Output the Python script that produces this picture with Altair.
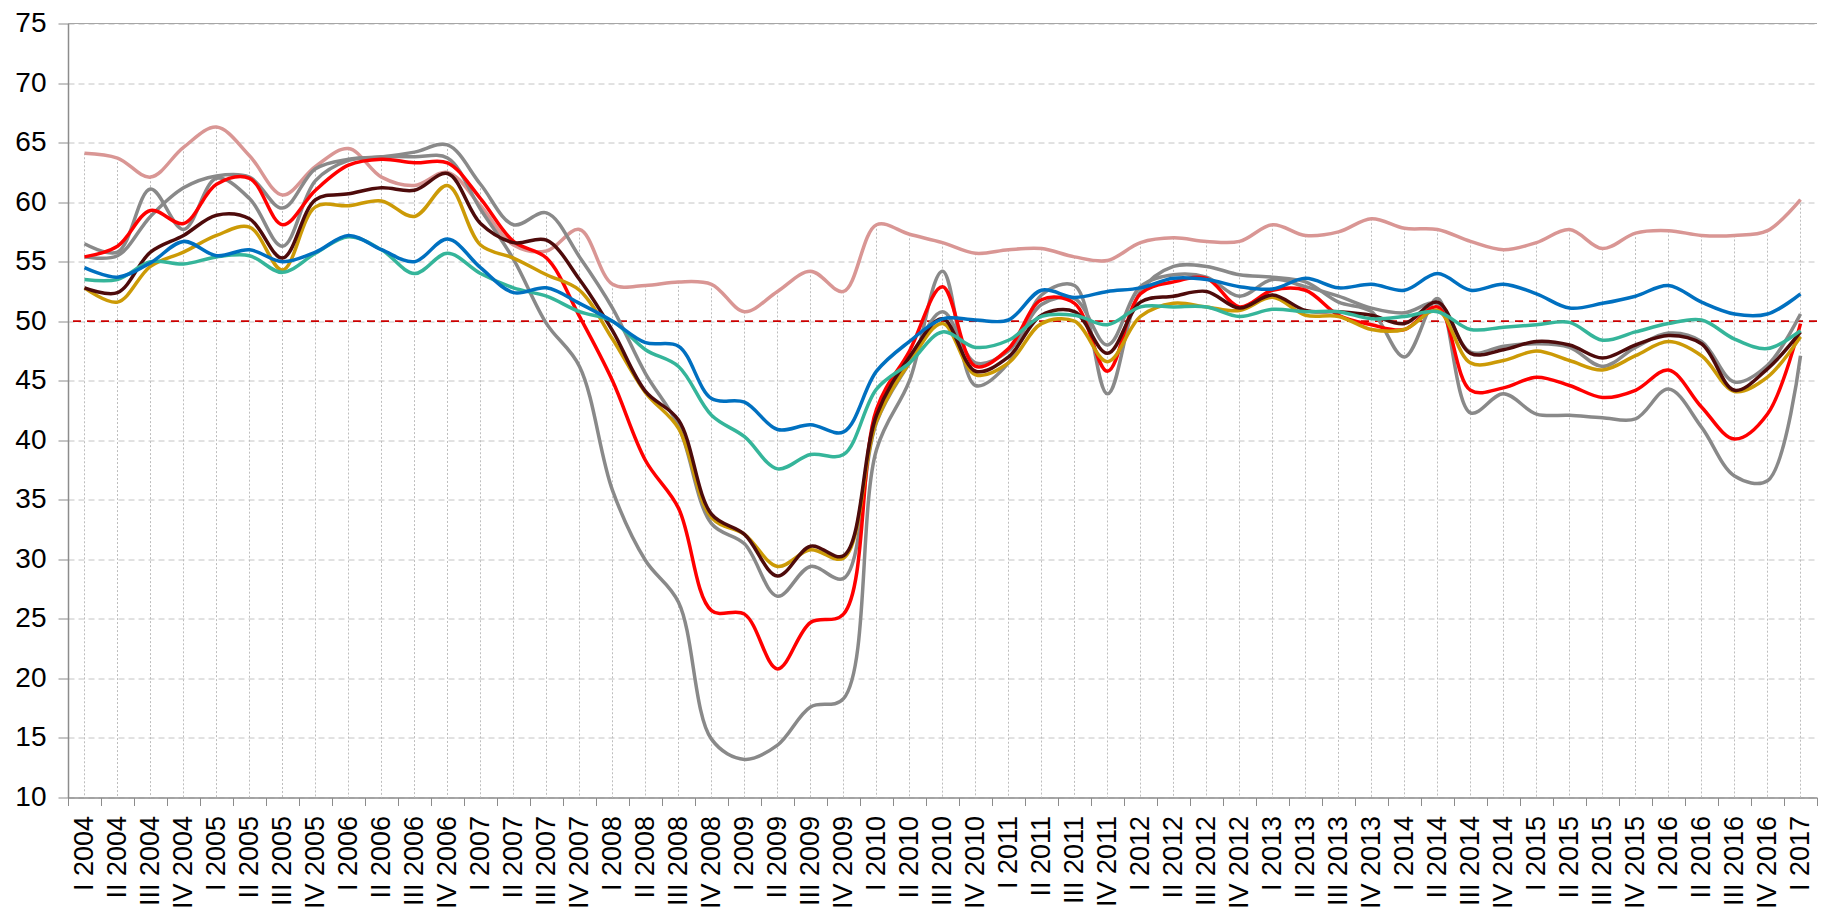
import altair as alt
import pandas as pd

quarters = [
    "I 2004", "II 2004", "III 2004", "IV 2004",
    "I 2005", "II 2005", "III 2005", "IV 2005",
    "I 2006", "II 2006", "III 2006", "IV 2006",
    "I 2007", "II 2007", "III 2007", "IV 2007",
    "I 2008", "II 2008", "III 2008", "IV 2008",
    "I 2009", "II 2009", "III 2009", "IV 2009",
    "I 2010", "II 2010", "III 2010", "IV 2010",
    "I 2011", "II 2011", "III 2011", "IV 2011",
    "I 2012", "II 2012", "III 2012", "IV 2012",
    "I 2013", "II 2013", "III 2013", "IV 2013",
    "I 2014", "II 2014", "III 2014", "IV 2014",
    "I 2015", "II 2015", "III 2015", "IV 2015",
    "I 2016", "II 2016", "III 2016", "IV 2016",
    "I 2017",
]

pink = [64.1, 63.7, 62.1, 64.6, 66.3, 63.9, 60.6, 63.0, 64.5, 62.1, 61.4, 62.5,
        59.7, 56.4, 55.9, 57.7, 53.1, 53.0, 53.3, 53.1, 50.8, 52.5, 54.2, 52.5,
        58.1, 57.3, 56.6, 55.7, 56.0, 56.1, 55.4, 55.1, 56.6, 57.0, 56.7, 56.7,
        58.1, 57.2, 57.5, 58.6, 57.8, 57.7, 56.7, 56.0, 56.6, 57.7, 56.1, 57.4,
        57.6, 57.2, 57.2, 57.6, 60.2]

gray_deep = [56.5, 55.8, 61.1, 57.7, 62.0, 60.3, 56.3, 61.8, 63.5, 63.8, 63.8, 63.7,
             59.4, 55.2, 49.8, 46.2, 35.8, 29.9, 26.4, 14.9, 13.2, 14.4, 17.6, 18.3,
             39.2, 45.0, 54.2, 44.6, 46.5, 52.2, 53.0, 43.9, 52.5, 54.6, 54.6, 53.9,
             53.7, 53.3, 51.6, 50.8, 47.0, 51.9, 42.3, 43.9, 42.2, 42.1, 41.9, 41.8,
             44.3, 41.1, 37.0, 36.6, 47.1]

gray_mid = [55.4, 55.5, 58.8, 61.2, 62.2, 62.1, 59.5, 62.8, 63.6, 63.8, 64.2, 64.8,
            61.5, 58.1, 59.1, 55.4, 51.1, 45.6, 41.2, 33.0, 31.3, 26.9, 29.4, 28.4,
            41.5, 46.5, 50.8, 46.5, 47.5, 51.4, 51.9, 48.0, 52.9, 53.9, 53.7, 52.1,
            53.5, 52.9, 52.1, 51.1, 50.7, 51.5, 47.4, 47.9, 48.1, 47.8, 46.2, 47.8,
            49.0, 48.3, 44.9, 46.3, 50.6]

red = [55.4, 56.3, 59.3, 58.2, 61.5, 62.0, 58.1, 61.0, 63.1, 63.6, 63.3, 63.3,
       60.3, 56.7, 55.3, 50.4, 45.0, 38.3, 34.3, 25.7, 25.4, 20.8, 24.7, 25.4,
       42.6, 47.5, 52.9, 46.2, 47.7, 51.8, 51.5, 45.8, 52.3, 53.3, 53.6, 51.2,
       52.6, 52.6, 50.5, 49.7, 49.3, 51.2, 44.2, 44.4, 45.3, 44.6, 43.6, 44.2,
       45.9, 42.8, 40.1, 42.2, 49.8]

brown = [52.8, 52.4, 55.8, 57.2, 58.9, 58.6, 55.3, 60.2, 60.7, 61.2, 61.0, 62.4,
         58.2, 56.6, 56.8, 53.5, 49.2, 44.1, 41.7, 33.8, 32.1, 28.6, 31.1, 30.3,
         42.1, 47.0, 50.2, 45.8, 47.0, 50.5, 50.8, 47.3, 51.6, 52.1, 52.5, 51.1,
         52.2, 50.9, 50.8, 50.5, 49.8, 51.6, 47.3, 47.6, 48.3, 48.0, 46.9, 48.0,
         48.8, 48.1, 44.2, 46.0, 49.1]

gold = [52.8, 51.6, 54.6, 55.8, 57.2, 57.9, 54.3, 59.6, 59.7, 60.1, 58.8, 61.4,
        56.4, 55.3, 53.9, 52.6, 48.5, 44.0, 41.0, 33.5, 32.1, 29.4, 30.8, 30.1,
        41.6, 46.5, 49.8, 45.5, 46.5, 49.8, 50.0, 46.6, 50.4, 51.5, 51.2, 50.9,
        52.0, 50.5, 50.4, 49.3, 49.3, 50.9, 46.5, 46.7, 47.5, 46.7, 45.9, 47.1,
        48.3, 47.1, 44.1, 45.3, 48.7]

teal = [53.5, 53.5, 55.0, 54.8, 55.4, 55.5, 54.1, 55.7, 57.1, 56.0, 54.0, 55.7,
        54.0, 52.8, 52.1, 50.8, 50.0, 47.6, 46.2, 42.1, 40.3, 37.6, 38.8, 38.8,
        44.3, 46.5, 49.1, 47.8, 48.4, 50.4, 50.5, 49.7, 51.2, 51.2, 51.2, 50.4,
        51.0, 50.8, 50.8, 50.2, 50.4, 50.8, 49.3, 49.5, 49.7, 49.9, 48.4, 49.1,
        49.8, 50.1, 48.5, 47.7, 49.2]

blue = [54.5, 53.7, 54.9, 56.7, 55.5, 56.0, 55.0, 55.8, 57.2, 56.0, 55.0, 56.9,
        54.5, 52.4, 52.8, 51.5, 50.0, 48.2, 47.9, 43.5, 43.2, 40.9, 41.3, 40.7,
        45.8, 48.3, 50.2, 50.1, 50.1, 52.6, 52.0, 52.5, 52.8, 53.6, 53.5, 52.9,
        52.7, 53.6, 52.8, 53.1, 52.6, 54.0, 52.6, 53.1, 52.3, 51.1, 51.5, 52.1,
        53.0, 51.6, 50.6, 50.6, 52.3]

series_names = ["pink", "gray_mid", "gray_deep", "red", "gold", "brown", "teal", "blue"]
series_values = [pink, gray_mid, gray_deep, red, gold, brown, teal, blue]
series_colors = ["#D99694", "#898989", "#898989", "#FF0000", "#CC9A06", "#4E0B0B", "#35B59A", "#0070C0"]

for n, v in zip(series_names, series_values):
    if len(v) != len(quarters):
        raise ValueError(f"{n} has {len(v)} values")

rows = []
for name, vals in zip(series_names, series_values):
    for q, v in zip(quarters, vals):
        rows.append({"quarter": q, "series": name, "value": v})
df = pd.DataFrame(rows)

FONT = "Liberation Sans"
AXIS_GRAY = "#8C8C8C"

x_axis = alt.Axis(
    title=None, grid=False, tickBand="extent", labelAngle=-90,
    labelFont=FONT, labelFontSize=27, labelColor="#000000", labelPadding=10,
    tickSize=8, tickColor=AXIS_GRAY, domainColor=AXIS_GRAY, domainWidth=1.5,
    labelOverlap=False,
)
y_axis = alt.Axis(
    title=None, values=list(range(10, 80, 5)), grid=True, gridDash=[6, 4],
    gridColor="#C4C4C4", gridWidth=1, labelFont=FONT, labelFontSize=28,
    labelColor="#000000", labelPadding=12, tickSize=10, tickColor=AXIS_GRAY,
    domainColor=AXIS_GRAY, domainWidth=1.5,
)
x_scale = alt.Scale(type="band", paddingInner=0, paddingOuter=0)
y_scale = alt.Scale(domain=[10, 75], nice=False, zero=False)


def xenc():
    return alt.X("quarter:N", sort=quarters, scale=x_scale, bandPosition=0.5, axis=x_axis)


base = alt.Chart(df)

top_rule = alt.Chart(pd.DataFrame({"v": [75]})).mark_rule(color="#A6A6A6", strokeWidth=1.2).encode(
    y=alt.Y("v:Q", scale=y_scale, axis=y_axis)
)

drop_lines = base.mark_rule(color="#BDBDBD", strokeWidth=1, strokeDash=[2, 2]).encode(
    x=xenc(),
    y=alt.Y("max(value):Q", scale=y_scale, axis=y_axis),
    y2=alt.datum(10),
)

ref50 = alt.Chart(pd.DataFrame({"v": [50]})).mark_rule(
    color="#CC0000", strokeWidth=1.8, strokeDash=[8, 6]
).encode(y=alt.Y("v:Q", scale=y_scale, axis=y_axis))

layers = [top_rule, drop_lines, ref50]
for name, color in zip(series_names, series_colors):
    layers.append(
        base.transform_filter(alt.datum.series == name)
        .mark_line(color=color, strokeWidth=3.5, interpolate="catmull-rom")
        .encode(x=xenc(), y=alt.Y("value:Q", scale=y_scale, axis=y_axis))
    )

chart = alt.layer(*layers).properties(
    width=1749, height=774,
    autosize=alt.AutoSizeParams(type="none"),
    padding={"left": 60, "top": 15.5, "right": 10, "bottom": 112},
    background="white",
).configure_view(stroke=None)

chart.save("out.html", embed_options={"renderer": "svg", "actions": False})
